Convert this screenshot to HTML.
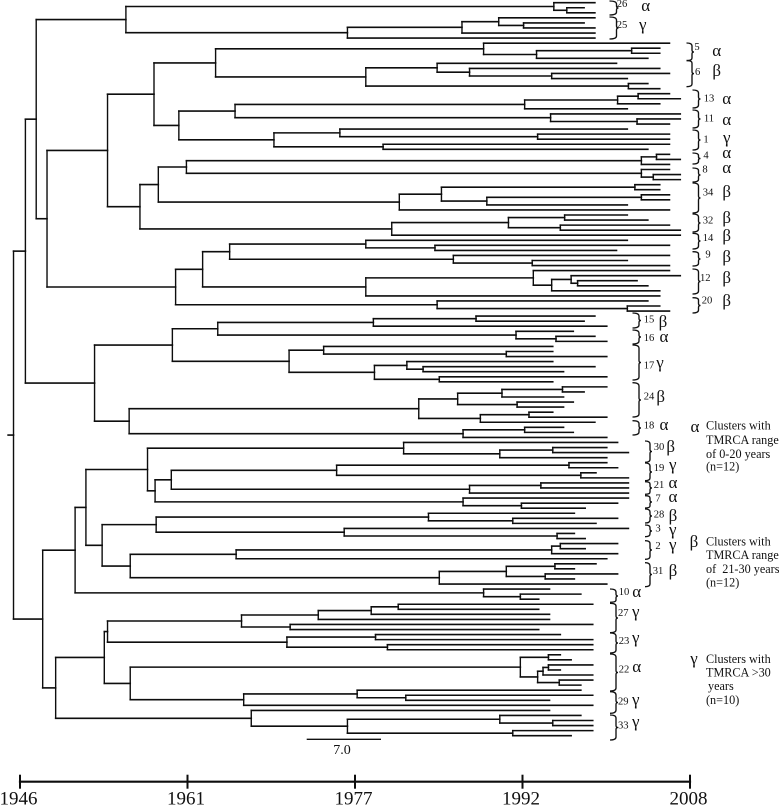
<!DOCTYPE html>
<html lang="en">
<head>
<meta charset="utf-8">
<title>Phylogenetic tree with TMRCA clusters</title>
<style>
html,body{margin:0;padding:0;background:#fff;}
svg{display:block;}
text{font-family:"Liberation Serif",serif;fill:#111;}
.n{font-size:10.6px;text-anchor:middle;}
.g{font-size:17px;text-anchor:middle;}
.l{font-size:12.2px;}
.b{fill:none;stroke:#111;stroke-width:1.35;}
</style>
</head>
<body>
<svg id="chart" width="779" height="806" viewBox="0 0 779 806" xmlns="http://www.w3.org/2000/svg">
<g id="tree"></g>
<g id="axis"></g>

<g>
<line x1="306.7" y1="739.3" x2="381" y2="739.3" stroke="#111" stroke-width="1.4"/>
<text x="342" y="754" font-size="14" text-anchor="middle">7.0</text>
</g>

<g><path class="b" d="M609.5 1Q616.5 1 616.5 4V6Q616.5 8 618.5 8Q616.5 8 616.5 10V12Q616.5 15 609.5 15"/><text class="n" x="622" y="7">26</text><text class="g" x="645.7" y="11">α</text></g>
<g><path class="b" d="M609.5 17Q616.5 17 616.5 20V26Q616.5 28 618.5 28Q616.5 28 616.5 30V36Q616.5 39 609.5 39"/><text class="n" x="622" y="28">25</text><text class="g" x="642.7" y="30">γ</text></g>
<g><path class="b" d="M686.5 43Q692 43 692 46V50Q692 52 694 52Q692 52 692 54V58Q692 60.6 686.5 60.6"/><text class="n" x="697" y="50">5</text><text class="g" x="716.7" y="56">α</text></g>
<g><path class="b" d="M686.5 60.6Q692 60.6 692 63V71.6Q692 73.6 694 73.6Q692 73.6 692 75.6V84Q692 86.7 686.5 86.7"/><text class="n" x="697.7" y="75">6</text><text class="g" x="716.7" y="76">β</text></g>
<g><path class="b" d="M692.5 90Q698.5 90 698.5 93V97Q698.5 99 700.5 99Q698.5 99 698.5 101V105Q698.5 108 692.5 108"/><text class="n" x="709" y="101.5">13</text><text class="g" x="726.7" y="104">α</text></g>
<g><path class="b" d="M692.5 110Q698.5 110 698.5 113V117Q698.5 119 700.5 119Q698.5 119 698.5 121V125Q698.5 128 692.5 128"/><text class="n" x="709" y="121.5">11</text><text class="g" x="726.7" y="125">α</text></g>
<g><path class="b" d="M692.5 130Q698.5 130 698.5 133V138Q698.5 140 700.5 140Q698.5 140 698.5 142V147Q698.5 150 692.5 150"/><text class="n" x="706" y="142.5">1</text><text class="g" x="726.7" y="143">γ</text></g>
<g><path class="b" d="M692.5 153Q698.5 153 698.5 155.5V157Q698.5 158.5 700.5 158.5Q698.5 158.5 698.5 160V161.5Q698.5 164 692.5 164"/><text class="n" x="706" y="158.5">4</text><text class="g" x="726.7" y="158">α</text></g>
<g><path class="b" d="M692.5 168Q698.5 168 698.5 170.5V173Q698.5 175 700.5 175Q698.5 175 698.5 177V179.5Q698.5 182 692.5 182"/><text class="n" x="705" y="172.5">8</text><text class="g" x="726.7" y="173">α</text></g>
<g><path class="b" d="M692.5 183Q698.5 183 698.5 186V196Q698.5 198 700.5 198Q698.5 198 698.5 200V210Q698.5 213 692.5 213"/><text class="n" x="708" y="195.5">34</text><text class="g" x="726.7" y="197">β</text></g>
<g><path class="b" d="M692.5 214Q698.5 214 698.5 217V221Q698.5 223 700.5 223Q698.5 223 698.5 225V229Q698.5 232 692.5 232"/><text class="n" x="708" y="223.5">32</text><text class="g" x="726.7" y="223">β</text></g>
<g><path class="b" d="M692.5 233.3Q698.5 233.3 698.5 236V239Q698.5 241 700.5 241Q698.5 241 698.5 243V246Q698.5 249 692.5 249"/><text class="n" x="708" y="241">14</text><text class="g" x="726.7" y="241">β</text></g>
<g><path class="b" d="M692.5 251.7Q698.5 251.7 698.5 254V257Q698.5 259 700.5 259Q698.5 259 698.5 261V263.5Q698.5 266 692.5 266"/><text class="n" x="708" y="257.5">9</text><text class="g" x="726.7" y="262">β</text></g>
<g><path class="b" d="M692.5 269Q698.5 269 698.5 272V279.5Q698.5 281.5 700.5 281.5Q698.5 281.5 698.5 283.5V291Q698.5 294 692.5 294"/><text class="n" x="705.3" y="281">12</text><text class="g" x="726.7" y="283">β</text></g>
<g><path class="b" d="M692.5 297.7Q698.5 297.7 698.5 300V303.5Q698.5 305.5 700.5 305.5Q698.5 305.5 698.5 307.5V310Q698.5 313 692.5 313"/><text class="n" x="707" y="303.5">20</text><text class="g" x="726.7" y="306">β</text></g>
<g><path class="b" d="M632.5 313Q639 313 639 316V318.5Q639 320.5 641 320.5Q639 320.5 639 322.5V325Q639 328 632.5 328"/><text class="n" x="649" y="322.5">15</text><text class="g" x="663" y="327">β</text></g>
<g><path class="b" d="M632.5 330Q639 330 639 333V335Q639 337 641 337Q639 337 639 339V341Q639 344 632.5 344"/><text class="n" x="649" y="341">16</text><text class="g" x="664" y="342">α</text></g>
<g><path class="b" d="M632.5 345Q639 345 639 348V360.5Q639 362.5 641 362.5Q639 362.5 639 364.5V377Q639 380 632.5 380"/><text class="n" x="649" y="368.5">17</text><text class="g" x="660" y="368">γ</text></g>
<g><path class="b" d="M632.5 382.7Q639 382.7 639 386V398Q639 400 641 400Q639 400 639 402V414Q639 417 632.5 417"/><text class="n" x="649" y="399.5">24</text><text class="g" x="660.7" y="402">β</text></g>
<g><path class="b" d="M632.5 420.7Q639 420.7 639 423.5V426Q639 428 641 428Q639 428 639 430V432Q639 435 632.5 435"/><text class="n" x="649" y="428.5">18</text><text class="g" x="664" y="430">α</text></g>
<g><path class="b" d="M645 441Q650 441 650 444V449.5Q650 451.5 652 451.5Q650 451.5 650 453.5V459.5Q650 462.3 645 462.3"/><text class="n" x="659" y="450">30</text><text class="g" x="670.7" y="452">β</text></g>
<g><path class="b" d="M645 463Q650 463 650 466V470Q650 472 652 472Q650 472 650 474V478Q650 480.7 645 480.7"/><text class="n" x="659" y="471">19</text><text class="g" x="672.7" y="470">γ</text></g>
<g><path class="b" d="M645 481.7Q650 481.7 650 484V486Q650 488 652 488Q650 488 650 490V492Q650 494.3 645 494.3"/><text class="n" x="659" y="488">21</text><text class="g" x="673" y="488">α</text></g>
<g><path class="b" d="M645 495.7Q650 495.7 650 498V500Q650 502 652 502Q650 502 650 504V506Q650 508 645 508"/><text class="n" x="658" y="501.5">7</text><text class="g" x="673" y="502">α</text></g>
<g><path class="b" d="M645 509Q650 509 650 512V514Q650 516 652 516Q650 516 650 518V520Q650 523 645 523"/><text class="n" x="659" y="517.5">28</text><text class="g" x="673" y="521">β</text></g>
<g><path class="b" d="M645 525Q650 525 650 527.5V529Q650 531 652 531Q650 531 650 533V534Q650 536.7 645 536.7"/><text class="n" x="658" y="531.5">3</text><text class="g" x="672.7" y="535">γ</text></g>
<g><path class="b" d="M645 540.7Q650 540.7 650 543.5V548Q650 550 652 550Q650 550 650 552V556.5Q650 559.3 645 559.3"/><text class="n" x="658" y="549">2</text><text class="g" x="672.7" y="550">γ</text></g>
<g><path class="b" d="M645 562.7Q650 562.7 650 566V572.5Q650 574.5 652 574.5Q650 574.5 650 576.5V584Q650 586.7 645 586.7"/><text class="n" x="658" y="574">31</text><text class="g" x="673" y="576">β</text></g>
<g><path class="b" d="M610 589Q616 589 616 592V594Q616 596 618 596Q616 596 616 598V600Q616 602.3 610 602.3"/><text class="n" x="624" y="595">10</text><text class="g" x="636.7" y="597">α</text></g>
<g><path class="b" d="M610 603.3Q616 603.3 616 606V616Q616 618 618 618Q616 618 616 620V630Q616 632.7 610 632.7"/><text class="n" x="623.3" y="616">27</text><text class="g" x="635.7" y="617">γ</text></g>
<g><path class="b" d="M610 633Q616 633 616 636V641Q616 643 618 643Q616 643 616 645V650Q616 653 610 653"/><text class="n" x="624" y="644">23</text><text class="g" x="635.7" y="643">γ</text></g>
<g><path class="b" d="M610 654Q616 654 616 657V670.5Q616 672.5 618 672.5Q616 672.5 616 674.5V688Q616 691 610 691"/><text class="n" x="624" y="672.5">22</text><text class="g" x="636.7" y="672">α</text></g>
<g><path class="b" d="M610 691.7Q616 691.7 616 695V700.5Q616 702.5 618 702.5Q616 702.5 616 704.5V710Q616 713.3 610 713.3"/><text class="n" x="623.3" y="704.5">29</text><text class="g" x="635.7" y="705">γ</text></g>
<g><path class="b" d="M610 715Q616 715 616 718V725.5Q616 727.5 618 727.5Q616 727.5 616 729.5V737Q616 740 610 740"/><text class="n" x="623.3" y="728.5">33</text><text class="g" x="635.7" y="727">γ</text></g>

<g>
<text class="g" x="695" y="432">α</text>
<text class="l" x="706" y="429.5">Clusters with</text>
<text class="l" x="706" y="444">TMRCA range</text>
<text class="l" x="706" y="458">of 0-20 years</text>
<text class="l" x="706" y="470.5">(n=12)</text>
</g>
<g>
<text class="g" x="694" y="547">β</text>
<text class="l" x="706" y="545.5">Clusters with</text>
<text class="l" x="706" y="559">TMRCA range</text>
<text class="l" x="706" y="573" xml:space="preserve">of  21-30 years</text>
<text class="l" x="706" y="586.5">(n=12)</text>
</g>
<g>
<text class="g" x="694" y="664">γ</text>
<text class="l" x="706" y="663">Clusters with</text>
<text class="l" x="706" y="676.5">TMRCA &gt;30</text>
<text class="l" x="708" y="690">years</text>
<text class="l" x="706" y="704">(n=10)</text>
</g>
</svg>

<script>
// Nodes are [year, upperChild, lowerChild]; a bare number is a sampled tip year.
const clade26 = [1995.4, 1999.2, [1996.6, 1998.2, 1999.2]];
const clade25 = [1976.3, [1986.9, [1990.3, 1999.2, [1992.6, 1998.2, 1999.2]], 1999.2], 1999.2];
const clade5 = [1988.9, 2006.1, [1993.8, [2002.6, 2005.2, 2005.2], 2004.1]];
const clade6 = [1978.0, [1984.6, 2001.2, [1987.6, 2005.2, [1995.2, 2006.1, 2002.2]]], [2002.3, 2004.1, 2005.2]];
const clade13 = [1992.7, [2001.3, [2003.2, 2006.1, 2007.1], 2005.2], 2002.2];
const clade11 = [1995.1, 2007.1, [2003.1, 2007.1, 2006.1]];
const clade1 = [1969.5, [1975.6, 2002.2, [1993.9, 2006.1, 2006.1]], [1979.6, 2006.1, 2004.1]];
const clade4 = [2003.5, [2004.9, 2006.1, 2007.1], 2006.1];
const clade8 = [2003.5, 2006.1, [2004.6, 2007.1, 2007.1]];
const clade34 = [1981.1, [1985.0, [2002.9, 2005.2, 2005.2], [1989.2, [2003.5, 2006.1, 2006.1], 2002.2]], 2006.1];
const clade32 = [1991.2, [1996.4, 2002.2, 2004.1], [1996.0, 2006.1, 2007.1]];
const clade14and9 = [1965.4, [1978.0, 2002.2, [1984.4, 2006.1, 2001.2]], [1986.1, 2006.1, [1993.4, 2002.2, 2006.1]]];
const clade12 = [1978.0, [1993.5, 2006.1, [1995.2, [1997.0, 2007.1, [1997.6, 2003.1, 2004.1]], 2005.2]], 2005.2];
const clade20 = [1984.6, 2004.1, [2002.2, 2005.2, 2006.1]];
const clade15and16 = [1964.3, [1978.7, [1988.2, 1999.2, 1998.2], 2000.3], [1991.9, 1997.2, [1995.6, 1999.2, 2000.3]]];
const clade17 = [1970.9, [1974.1, 1995.3, [1991.0, 1995.3, 2000.3]], [1978.8, [1981.8, 1995.3, [1983.3, 1999.2, 1996.3]], [1984.8, 2000.3, 1995.3]]];
const clade24 = [1982.9, [1986.5, [1990.6, [1996.2, 2000.3, 1998.2], 1996.3], [1992.0, 1997.2, 1996.3]], [1988.6, [1993.1, 1995.3, 2000.3], 1999.2]];
const clade18 = [1987.0, [1992.7, 1996.3, 1997.2], 2000.3];
const clade30 = [1981.5, 2001.3, [1990.4, [1995.3, 2000.3, 2002.3], 2000.3]];
const clade19 = [1975.3, [1996.8, 2000.3, 2001.3], [1997.9, 1999.3, 2002.3]];
const clade21 = [1987.6, [1994.2, 2002.3, 2002.3], 2002.3];
const clade7 = [1987.0, 2002.3, [1992.4, 2001.3, 1998.3]];
const clade28and3 = [1958.6, [1983.8, 1997.3, [1991.6, 2001.3, 1999.3]], [1976.0, 2002.3, [1995.7, 1997.3, 1998.3]]];
const clade2 = [1966.0, [1995.2, [1996.0, 2001.3, 1998.3], 2001.3], 2000.3];
const clade31 = [1984.8, [1991.0, [1995.5, 1999.3, 1997.3], [1994.6, 2001.3, 1997.3]], 2000.3];
const clade10 = [1988.9, 1995.0, [1992.3, 1997.9, 1994.0]];
const clade27 = [1966.5, [1973.6, [1978.5, [1981.0, 1999.0, 1994.0], 1995.0], 1995.0], [1971.0, 1999.0, 1994.0]];
const clade23 = [1970.7, [1978.9, 1996.0, 1999.0], [1980.0, 1999.0, 1999.0]];
const clade22 = [1992.3, [1994.9, 1996.0, 1997.0], [1993.9, [1994.4, [1994.9, 1999.0, 1996.0], 1999.0], [1995.9, 1999.0, 1997.9]]];
const clade29 = [1966.7, [1977.2, 1997.9, [1981.7, 1999.0, 1995.0]], 1999.0];
const clade33 = [1967.4, 1995.0, [1976.3, [1990.4, 1997.9, [1995.3, 1999.0, 1999.0]], [1991.6, 1999.0, 1997.0]]];

// Deeper backbone, joining the clades above.
const groupTop = [1955.8, clade26, clade25];
const group5to1 = [1958.4, [1964.1, clade5, clade6], [1960.7, [1965.9, clade13, clade11], clade1]];
const group4to14 = [1957.1, [1958.8, [1961.4, clade4, clade8], clade34], [1980.4, clade32, 2007.1]];
const group9to20 = [1960.4, [1962.9, clade14and9, clade12], clade20];
const upperTree = [1947.5, groupTop, [1948.5, [1954.1, group5to1, group4to14], group9to20]];
const middleTree = [1952.9, [1960.1, clade15and16, clade17], [1956.1, clade24, clade18]];
const group30to21 = [1957.8, clade30, [1958.5, [1960.0, clade19, clade21], clade7]];
const group28to31 = [1953.6, clade28and3, [1956.2, clade2, clade31]];
const lowerTree = [1951.1, [1952.1, group30to21, group28to31], clade10];
const bottomTree = [1949.3, [1953.8, [1954.1, clade27, clade23], [1956.2, clade22, clade29]], clade33];
const rootTree = [1945.4, [1946.5, upperTree, middleTree], [1948.1, lowerTree, bottomTree]];
const stemStartYear = 1944.9;

const tickYears = [1946, 1961.5, 1977, 1992.5, 2008];
const tickLabels = ["1946", "1961", "1977", "1992", "2008"];

const NS = "http://www.w3.org/2000/svg";
const xScale = function (year) { return 20 + (year - 1946) * (670 / 62); };
const yScale = function (tipIndex) { return 2.7 + tipIndex * 5.055; };

const treeLayer = document.getElementById("tree");
const axisLayer = document.getElementById("axis");
let tipCounter = 0;

function drawLine(parent, x1, y1, x2, y2, width, name) {
  const el = document.createElementNS(NS, "line");
  el.setAttribute("x1", x1.toFixed(2));
  el.setAttribute("y1", y1.toFixed(2));
  el.setAttribute("x2", x2.toFixed(2));
  el.setAttribute("y2", y2.toFixed(2));
  el.setAttribute("stroke", "#0d0d0d");
  el.setAttribute("stroke-width", width);
  el.setAttribute("stroke-linecap", "square");
  
  
  parent.appendChild(el);
}

// Returns the pixel y of the node; draws its subtree and the branch to its parent.
function drawNode(node, parentX) {
  if (typeof node === "number") {
    const tipY = yScale(tipCounter);
    tipCounter += 1;
    drawLine(treeLayer, parentX, tipY, xScale(node), tipY, 1.6, "tip-branch");
    return tipY;
  }
  const nodeX = xScale(node[0]);
  const upperY = drawNode(node[1], nodeX);
  const lowerY = drawNode(node[2], nodeX);
  const nodeY = (upperY + lowerY) / 2;
  drawLine(treeLayer, nodeX, upperY, nodeX, lowerY, 1.4, "node-connector");
  drawLine(treeLayer, parentX, nodeY, nodeX, nodeY, 1.6, "internal-branch");
  return nodeY;
}

drawNode(rootTree, xScale(stemStartYear));

// Time axis
const axisY = 781.7;
drawLine(axisLayer, xScale(tickYears[0]), axisY, xScale(tickYears[tickYears.length - 1]), axisY, 2.2, "axis-line");
tickYears.forEach(function (year, i) {
  drawLine(axisLayer, xScale(year), axisY - 6, xScale(year), axisY + 6, 2, "axis-tick");
  const label = document.createElementNS(NS, "text");
  label.setAttribute("x", (xScale(year) - 1.5).toFixed(2));
  label.setAttribute("y", "804.5");
  label.setAttribute("font-size", "19");
  label.setAttribute("text-anchor", "middle");
  
  
  label.textContent = tickLabels[i];
  axisLayer.appendChild(label);
});
</script>
</body>
</html>
